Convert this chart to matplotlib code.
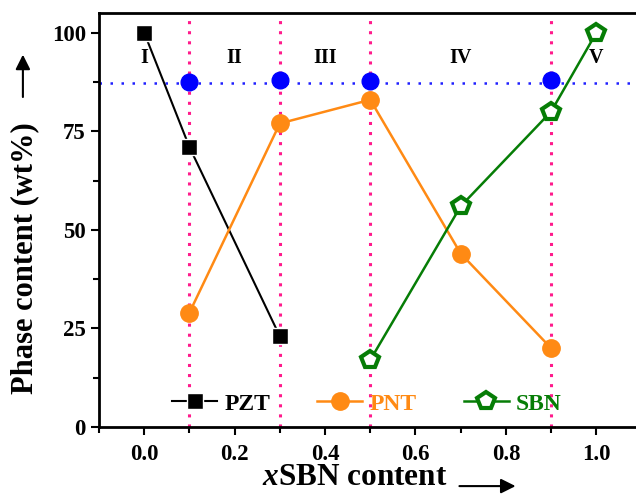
import numpy as np
import matplotlib.pyplot as plt
from matplotlib.ticker import MultipleLocator

plt.rcParams['font.family'] = ['Liberation Serif', 'DejaVu Serif']
plt.rcParams['font.weight'] = 'bold'
plt.rcParams['mathtext.fontset'] = 'custom'
plt.rcParams['mathtext.it'] = 'Liberation Serif:italic:bold'

x_pzt = [0.0, 0.1, 0.3]
pzt = [100, 71, 23]
x_pnt = [0.1, 0.3, 0.5, 0.7, 0.9]
pnt = [29, 77, 83, 44, 20]
x_sbn = [0.5, 0.7, 0.9, 1.0]
sbn = [17, 56, 80, 100]
x_bound = [0.1, 0.3, 0.5, 0.9]
y_bound = [87.5, 88, 87.8, 88]
regions = ['I', 'II', 'III', 'IV', 'V']
x_regions = [0.0, 0.2, 0.4, 0.7, 1.0]

fig = plt.figure(figsize=(6.36, 4.94), dpi=100)
ax = fig.add_axes([0.1557, 0.1356, 0.853, 0.838])

orange = '#ff8a14'
green = '#067d06'

for xb in x_bound:
    ax.axvline(xb, color='#ff1a8c', ls=(0, (1, 2.3)), lw=2.2, zorder=1)
ax.axhline(87.3, color='#2020ff', ls=(0, (1, 3.4)), lw=1.8, zorder=1)
ax.plot(x_bound, y_bound, 'o', color='#0000ff', ms=12, zorder=3)

ax.plot(x_pzt, pzt, '-s', color='black', lw=1.5, ms=11, mec='white', mew=1, label='PZT', zorder=4)
ax.plot(x_pnt, pnt, '-o', color=orange, lw=1.8, ms=12.5, mec=orange, label='PNT', zorder=4)
ax.plot(x_sbn, sbn, '-p', color=green, lw=1.8, ms=13, mfc='white', mec=green, mew=3, label='SBN', zorder=4)

for xr, r in zip(x_regions, regions):
    ax.text(xr, 93.5, r, ha='center', va='center', fontsize=14.5, fontweight='bold')

ax.set_xlim(-0.1, 1.1)
ax.set_ylim(0, 105)
ax.xaxis.set_minor_locator(MultipleLocator(0.1))
ax.yaxis.set_major_locator(MultipleLocator(25))
ax.yaxis.set_minor_locator(MultipleLocator(12.5))
ax.set_xticks([0.0, 0.2, 0.4, 0.6, 0.8, 1.0])
ax.set_xticklabels(['0.0', '0.2', '0.4', '0.6', '0.8', '1.0'])
ax.tick_params(which='major', direction='out', length=6, width=1.5, labelsize=16.5)
ax.tick_params(axis='x', which='major', pad=6)
ax.tick_params(which='minor', direction='out', length=4, width=1.5)
for lab in ax.get_xticklabels() + ax.get_yticklabels():
    lab.set_fontweight('bold')
for s in ax.spines.values():
    s.set_linewidth(2)

leg = ax.legend(loc='center left', bbox_to_anchor=(0.096, 0.056), ncol=3, frameon=False,
                fontsize=17, handlelength=1.9, columnspacing=2.0, handletextpad=0.3)
for t, c in zip(leg.get_texts(), ['black', orange, green]):
    t.set_color(c)
    t.set_fontweight('bold')

fig.text(0.039, 0.478, 'Phase content (wt%)', rotation=90, ha='center', va='center',
         fontsize=22, fontweight='bold')
ax.annotate('', xy=(0.036, 0.895), xytext=(0.036, 0.798), xycoords='figure fraction',
            annotation_clip=False,
            arrowprops=dict(arrowstyle='-|>', color='black', lw=1.5, mutation_scale=22))
fig.text(0.558, 0.034, r'$x$SBN content', ha='center', va='center',
         fontsize=22.5, fontweight='bold')
ax.annotate('', xy=(0.815, 0.016), xytext=(0.718, 0.016), xycoords='figure fraction',
            annotation_clip=False,
            arrowprops=dict(arrowstyle='-|>', color='black', lw=1.5, mutation_scale=22))

fig.savefig('out.png', dpi=100)
